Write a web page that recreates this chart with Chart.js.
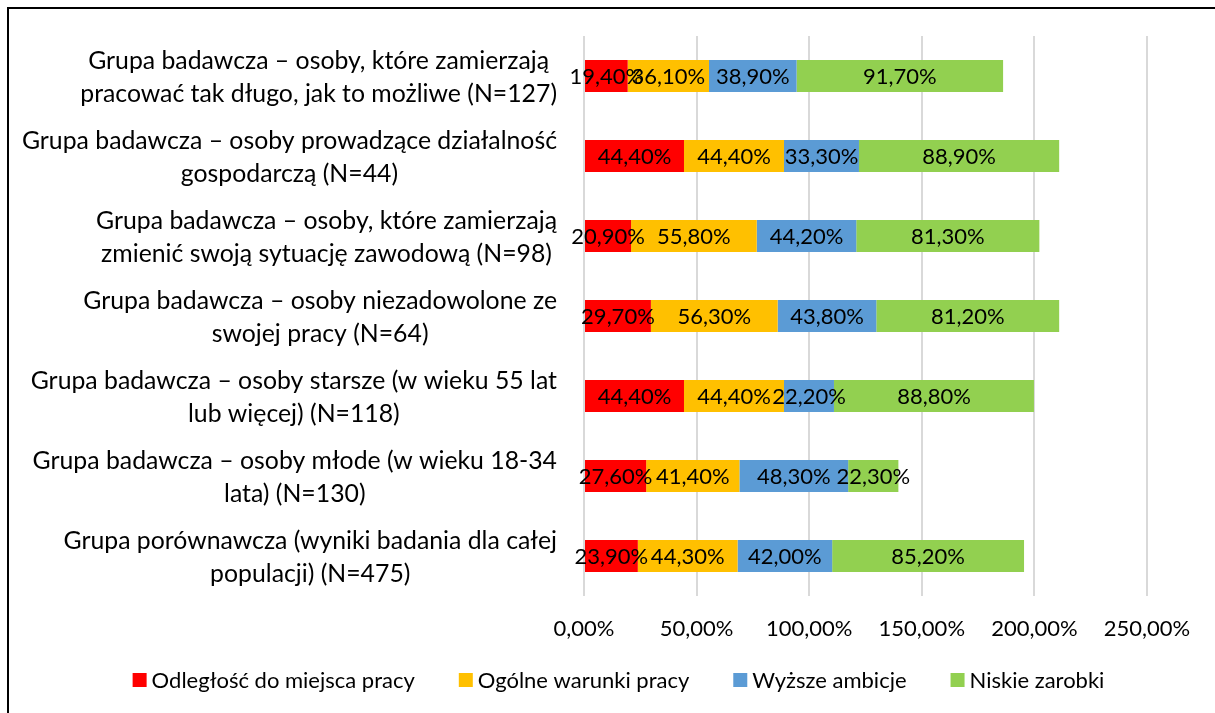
<!DOCTYPE html>
<html lang="pl">
<head>
<meta charset="UTF-8">
<title>Powody zmiany pracy</title>
<script src="https://cdn.jsdelivr.net/npm/chart.js"></script>
<style>
    html, body { margin: 0; padding: 0; background: #fff; overflow: hidden; }
    .frame {
        position: absolute; left: 7px; top: 7px; width: 2000px; height: 2000px;
        border-left: 2px solid #000; border-top: 2px solid #000; pointer-events: none;
    }
    #chart { display: block; }
</style>
</head>
<body>
<canvas id="chart" width="1215" height="713"></canvas>
<div class="frame"></div>
<script>
    const groups = [
        ["Grupa badawcza – osoby, które zamierzają", "pracować tak długo, jak to możliwe (N=127)"],
        ["Grupa badawcza – osoby prowadzące działalność", "gospodarczą (N=44)"],
        ["Grupa badawcza – osoby, które zamierzają", "zmienić swoją sytuację zawodową (N=98)"],
        ["Grupa badawcza – osoby niezadowolone ze", "swojej pracy (N=64)"],
        ["Grupa badawcza – osoby starsze (w wieku 55 lat", "lub więcej) (N=118)"],
        ["Grupa badawcza – osoby młode (w wieku 18-34", "lata) (N=130)"],
        ["Grupa porównawcza (wyniki badania dla całej", "populacji) (N=475)"]
    ];
    const seriesNames = ["Odległość do miejsca pracy", "Ogólne warunki pracy", "Wyższe ambicje", "Niskie zarobki"];
    const distance   = [19.4, 44.4, 20.9, 29.7, 44.4, 27.6, 23.9];
    const conditions = [36.1, 44.4, 55.8, 56.3, 44.4, 41.4, 44.3];
    const ambitions  = [38.9, 33.3, 44.2, 43.8, 22.2, 48.3, 42.0];
    const lowPay     = [91.7, 88.9, 81.3, 81.2, 88.8, 22.3, 85.2];
    const xTicks = [0, 50, 100, 150, 200, 250];
    const colors = ["#FF0000", "#FFC000", "#5B9BD5", "#92D050"];

    const FONT = "Lato";
    const fmt = v => v.toFixed(2).replace('.', ',') + '%';

    // value labels centred on each segment (like Excel's "center" position)
    const segmentLabels = {
        id: 'segmentLabels',
        afterDatasetsDraw(chart) {
            const ctx = chart.ctx;
            ctx.save();
            ctx.font = `22px ${FONT}`;
            ctx.fillStyle = '#000';
            ctx.textAlign = 'center';
            ctx.textBaseline = 'middle';
            chart.data.datasets.forEach((ds, di) => {
                chart.getDatasetMeta(di).data.forEach((bar, i) => {
                    ctx.fillText(fmt(ds.data[i]), (bar.x + bar.base) / 2, bar.y + 1);
                });
            });
            ctx.restore();
        }
    };

    // category labels: each block right-aligned to the axis, lines centred inside it
    const groupLabels = {
        id: 'groupLabels',
        afterDraw(chart) {
            const ctx = chart.ctx;
            const yScale = chart.scales.y;
            const right = chart.chartArea.left - 27;
            const lineH = 33;
            ctx.save();
            ctx.font = `24.8px ${FONT}`;
            ctx.fillStyle = '#000';
            ctx.textAlign = 'center';
            ctx.textBaseline = 'middle';
            groups.forEach((lines, i) => {
                const w = Math.max(...lines.map(l => ctx.measureText(l).width));
                const cx = right - w / 2;
                const cy = yScale.getPixelForTick(i) + 2;
                lines.forEach((l, k) => {
                    ctx.fillText(l, cx, cy + (k - (lines.length - 1) / 2) * lineH);
                });
            });
            ctx.restore();
        }
    };

    // single-row legend under the axis: small square, tight gap, wide spacing between items
    const bottomLegend = {
        id: 'bottomLegend',
        afterDraw(chart) {
            const ctx = chart.ctx;
            const box = 14, gap = 5, spacing = 44;
            ctx.save();
            ctx.font = `22px ${FONT}`;
            ctx.textBaseline = 'middle';
            ctx.textAlign = 'left';
            const items = chart.data.datasets.map(ds => ({
                text: ds.label, color: ds.backgroundColor, w: ctx.measureText(ds.label).width
            }));
            const total = items.reduce((s, it) => s + box + gap + it.w, 0) + spacing * (items.length - 1);
            const cy = chart.scales.x.bottom + 24;
            let x = chart.width / 2 + 11 - total / 2;
            items.forEach(it => {
                ctx.fillStyle = it.color;
                ctx.fillRect(x, cy - box / 2, box, box);
                ctx.fillStyle = '#000';
                ctx.fillText(it.text, x + box + gap, cy + 1);
                x += box + gap + it.w + spacing;
            });
            ctx.restore();
        }
    };

    const datasets = [distance, conditions, ambitions, lowPay].map((vals, i) => ({
        label: seriesNames[i],
        data: vals,
        backgroundColor: colors[i],
        borderWidth: 0,
        barPercentage: 0.4,
        categoryPercentage: 1.0
    }));

    new Chart(document.getElementById('chart'), {
        type: 'bar',
        data: { labels: groups.map(g => g.join(' ')), datasets },
        options: {
            indexAxis: 'y',
            responsive: false,
            animation: false,
            layout: { padding: { top: 36, right: 68, left: 0, bottom: 57 } },
            scales: {
                x: {
                    stacked: true,
                    min: 0,
                    max: 250,
                    afterBuildTicks: scale => { scale.ticks = xTicks.map(v => ({ value: v })); },
                    afterFit: scale => { scale.height = 60; },
                    grid: { color: '#D9D9D9', lineWidth: 2, drawTicks: false },
                    border: { display: false },
                    ticks: {
                        padding: 20,
                        color: '#000',
                        font: { family: FONT, size: 22 },
                        callback: v => fmt(v)
                    }
                },
                y: {
                    stacked: true,
                    afterFit: scale => { scale.width = 584; },
                    grid: { display: false, drawTicks: false },
                    border: { display: false },
                    ticks: { display: false }
                }
            },
            plugins: {
                legend: { display: false },
                tooltip: { enabled: false }
            }
        },
        plugins: [segmentLabels, groupLabels, bottomLegend]
    });
</script>
</body>
</html>
